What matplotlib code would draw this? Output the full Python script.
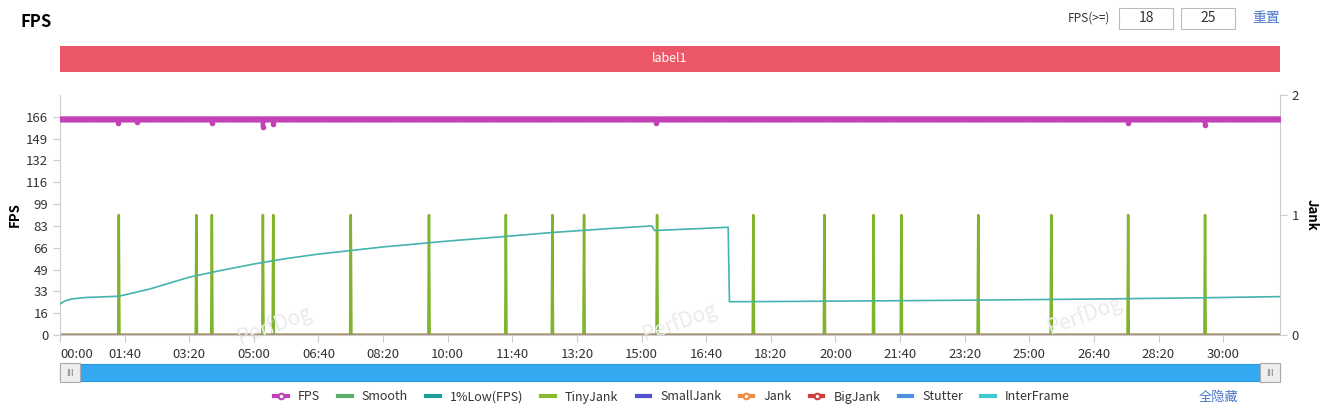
import numpy as np
import matplotlib
matplotlib.use("Agg")
from matplotlib import pyplot as plt
from matplotlib.lines import Line2D
from matplotlib.patches import Rectangle

plt.rcParams['font.family'] = ['Noto Sans CJK SC', 'DejaVu Sans']

# data
duration = 1888  # seconds
fps_level = 164.5
fps_dips_t = [90, 119, 235, 314, 330, 923, 1653, 1772]
fps_dips_v = [161.5, 162, 161.5, 158.5, 160.5, 161.5, 161.5, 159.5]

low_t = [0, 8, 19, 39, 91, 139, 200, 248, 300, 348, 399, 500, 601, 690, 762, 851, 916, 920,
         991, 1034, 1036, 1146, 1300, 1455, 1610, 1765, 1888]
low_v = [23.6, 26, 27.5, 28.5, 29.5, 35, 44, 49, 54, 58, 61.5, 67, 71.5, 75, 78, 81, 83, 79.5,
         81, 82, 25.3, 25.6, 26.1, 26.7, 27.4, 28.3, 29.2]

tinyjank_t = [91, 211, 235, 314, 330, 450, 571, 690, 762, 811, 924, 1073, 1183, 1259, 1302,
              1421, 1534, 1653, 1772]

fps_ticks = [16.6 * k for k in range(11)]
fps_labels = ['0', '16', '33', '49', '66', '83', '99', '116', '132', '149', '166']
time_ticks = list(range(0, 1801, 100))
time_labels = ['%02d:%02d' % (t // 60, t % 60) for t in time_ticks]

legend_names = ['FPS', 'Smooth', '1%Low(FPS)', 'TinyJank', 'SmallJank', 'Jank', 'BigJank',
                'Stutter', 'InterFrame']
legend_colors = ['#c341b8', '#5aad6b', '#1f9e98', '#8ab833', '#5252cf', '#ef8a45', '#d13c3c',
                 '#4d8fe0', '#3fc9d1']

t = np.arange(0, duration + 1)
fps = np.full(len(t), fps_level)
for dt, dv in zip(fps_dips_t, fps_dips_v):
    fps[dt] = dv
tiny = np.zeros(len(t))
tiny[tinyjank_t] = 1

W, H = 1331, 409
fig = plt.figure(figsize=(W / 100, H / 100), dpi=100)

def fx(px):
    return px / W

def fy(py):
    return 1 - py / H

ax = fig.add_axes([fx(60), fy(335), fx(1280) - fx(60), fy(95) - fy(335)])
ax2 = ax.twinx()

grey = '#cccccc'
for a in (ax, ax2):
    for s in a.spines.values():
        s.set_visible(False)
ax.spines['left'].set_visible(True)
ax.spines['left'].set_color(grey)
ax.spines['bottom'].set_visible(True)
ax.spines['bottom'].set_color(grey)
ax2.spines['right'].set_visible(True)
ax2.spines['right'].set_color(grey)

ax.set_xlim(0, duration)
ax.set_ylim(0, 182.6)
ax2.set_ylim(0, 2)
ax.set_yticks(fps_ticks)
ax.set_yticklabels(fps_labels)
ax.set_xticks(time_ticks)
ax.set_xticklabels(time_labels)
ax.get_xticklabels()[0].set_horizontalalignment('left')
ax2.set_yticks([0, 1, 2])
ax.tick_params(axis='both', colors=grey, labelcolor='#333333', labelsize=9.5, length=5)
ax.tick_params(axis='x', pad=4)
ax2.tick_params(axis='y', colors=grey, labelcolor='#333333', labelsize=9.5, length=5)

ax.set_ylabel('FPS', fontsize=9.5, fontweight='bold', labelpad=3)
ax2.set_ylabel('Jank', fontsize=9.5, fontweight='bold', rotation=270, labelpad=14)

ax2.plot(t, tiny, color='#7fb42c', lw=1.8, zorder=3)
# zero lines of the other jank series
ax2.plot(t, np.zeros(len(t)), color='#a58d6e', lw=2.2, zorder=4)
ax.plot(low_t, low_v, color='#45b3ae', lw=1.2, zorder=4)
ax.set_zorder(ax2.get_zorder() + 1)
ax.patch.set_visible(False)
ax.plot(t, fps, color='#c341b8', lw=3, marker='o', ms=3, zorder=5)

# watermarks
for wx, wy in [(275, 325), (680, 322), (1085, 315)]:
    fig.text(fx(wx), fy(wy), 'PerfDog', fontsize=15, color='#ebebeb', rotation=20,
             ha='center', va='center', zorder=0)

# title and controls
fig.text(fx(20), fy(22), 'FPS', fontsize=12, fontweight='bold', va='center')
fig.text(fx(1110), fy(18), 'FPS(>=)', fontsize=8.5, ha='right', va='center', color='#333333')
for bx, val in [(1119, '18'), (1181, '25')]:
    fig.patches.append(Rectangle((fx(bx), fy(29)), fx(54), fy(8) - fy(29), transform=fig.transFigure,
                                 facecolor='white', edgecolor='#bbbbbb', lw=0.8))
    fig.text(fx(bx + 27), fy(18), val, fontsize=10, ha='center', va='center', color='#333333')
fig.text(fx(1266), fy(18), '重置', fontsize=10, ha='center', va='center', color='#4a78c8')

# label bar
fig.patches.append(Rectangle((fx(60), fy(72)), fx(1220), fy(46) - fy(72), transform=fig.transFigure,
                             facecolor='#eb5766', edgecolor='none'))
fig.text(fx(670), fy(59), 'label1', fontsize=9, color='white', ha='center', va='center')

# slider
fig.patches.append(Rectangle((fx(60), fy(381)), fx(1220), fy(364) - fy(381), transform=fig.transFigure,
                             facecolor='#35a8f2', edgecolor='#2a98e0', lw=0.8))
for hx in (60, 1260):
    fig.patches.append(Rectangle((fx(hx), fy(382)), fx(20), fy(363) - fy(382), transform=fig.transFigure,
                                 facecolor='#eeeeee', edgecolor='#aaaaaa', lw=0.8))
    fig.text(fx(hx + 10), fy(373), 'III', fontsize=6, ha='center', va='center', color='#777777')

# legend
handles = []
for name, c in zip(legend_names, legend_colors):
    if name in ('FPS', 'Jank', 'BigJank'):
        handles.append(Line2D([], [], color=c, lw=3, marker='o', ms=4, mfc='white', mec=c, mew=1.5))
    else:
        handles.append(Line2D([], [], color=c, lw=3))
fig.legend(handles, legend_names, loc='center', bbox_to_anchor=(fx(672), fy(397)), ncol=9,
           frameon=False, fontsize=9, handlelength=1.1, handletextpad=0.8, columnspacing=1.45,
           labelcolor='#333333')
fig.text(fx(1219), fy(397), '全隐藏', fontsize=9.5, ha='center', va='center', color='#4a78c8')

fig.savefig('out.png', dpi=100)
